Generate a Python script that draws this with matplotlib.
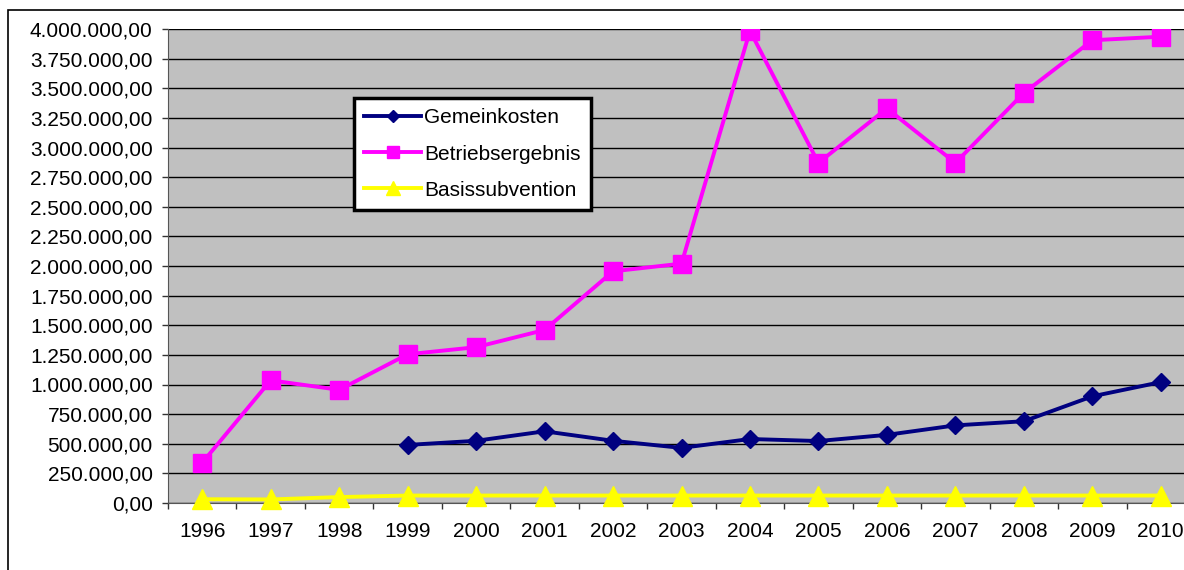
import matplotlib
matplotlib.use("Agg")
import matplotlib.pyplot as plt
from matplotlib.patches import Rectangle
from matplotlib.ticker import FuncFormatter, MultipleLocator

plt.rcParams['font.family'] = ['Liberation Sans', 'DejaVu Sans']

jahre = ['1996', '1997', '1998', '1999', '2000', '2001', '2002', '2003',
         '2004', '2005', '2006', '2007', '2008', '2009', '2010']
gemeinkosten = [None, None, None, 490000, 525000, 605000, 525000, 465000,
                540000, 523000, 575000, 655000, 690000, 900000, 1020000]
betriebsergebnis = [340000, 1035000, 955000, 1255000, 1315000, 1460000, 1955000, 2020000,
                    3985000, 2870000, 3330000, 2870000, 3460000, 3905000, 3935000]
basissubvention = [32000, 30000, 50000, 63000, 63000, 63000, 63000, 63000,
                   63000, 63000, 63000, 63000, 63000, 63000, 63000]

def de_format(v, pos):
    s = f"{v:,.2f}"
    return s.replace(",", "X").replace(".", ",").replace("X", ".")

fig = plt.figure(figsize=(11.84, 5.70), dpi=100)
# outer chart border (only top/left visible in the crop)
fig.patches.append(Rectangle((8/1184, -0.2), 1.2, 1.2 - 10/570,
                             transform=fig.transFigure, fill=False,
                             edgecolor='black', linewidth=1.2))
ax = fig.add_axes([168/1184, 67/570, 1027/1184, 474/570])
ax.set_facecolor('#C0C0C0')

x = list(range(len(jahre)))
gk_x = [i for i, v in zip(x, gemeinkosten) if v is not None]
gk_y = [v for v in gemeinkosten if v is not None]

ax.plot(gk_x, gk_y, color='#000080', lw=2.8, marker='D', ms=9,
        label='Gemeinkosten', zorder=4)
ax.plot(x, betriebsergebnis, color='#FF00FF', lw=2.8, marker='s', ms=13,
        label='Betriebsergebnis', zorder=3)
ax.plot(x, basissubvention, color='#FFFF00', lw=2.8, marker='^', ms=14.5,
        label='Basissubvention', zorder=5, clip_on=False)

ax.set_xlim(-0.5, len(jahre) - 0.5)
ax.set_ylim(0, 4000000)
ax.yaxis.set_major_locator(MultipleLocator(250000))
ax.yaxis.set_major_formatter(FuncFormatter(de_format))
ax.yaxis.grid(True, color='black', lw=1)
ax.set_axisbelow(True)

ax.set_xticks(x)
ax.set_xticklabels(jahre)
ax.set_xticks([i + 0.5 for i in range(-1, len(jahre))], minor=True)
ax.tick_params(axis='x', which='major', length=0, pad=14, labelsize=15)
ax.tick_params(axis='x', which='minor', length=4, width=1, color='#333333')
ax.tick_params(axis='y', length=4, width=1, color='#333333', pad=7, labelsize=15)

for side in ['top', 'right']:
    ax.spines[side].set_visible(False)
ax.spines['left'].set_color('#555555')
ax.spines['bottom'].set_color('#555555')

leg = ax.legend(loc='upper left', bbox_to_anchor=(354/1184, 1 - 98/570),
                bbox_transform=fig.transFigure, fontsize=15, frameon=True,
                fancybox=False, framealpha=1, edgecolor='black',
                handlelength=2.7, borderpad=0.5, labelspacing=0.82,
                handletextpad=0.15, borderaxespad=0, markerscale=0.65)
leg.get_frame().set_linewidth(2.5)

fig.savefig('out.png', dpi=100)
